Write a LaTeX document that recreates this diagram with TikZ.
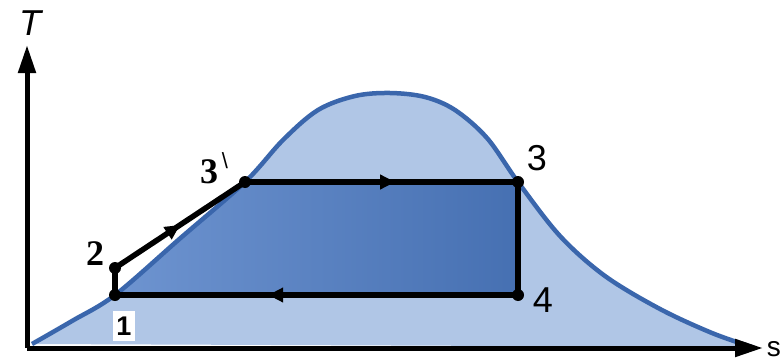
\documentclass[tikz,border=0pt]{standalone}
\usepackage{fontspec}
\setmainfont{Liberation Serif}
\newfontfamily\sansf{Liberation Sans}
\usetikzlibrary{arrows.meta,decorations.markings}
\definecolor{lightfill}{HTML}{B0C6E6}
\definecolor{curveblue}{HTML}{3A66AC}
\definecolor{innerL}{HTML}{6E94D0}
\definecolor{innerR}{HTML}{4670B2}
\begin{document}
\begin{tikzpicture}[x=1pt,y=-1pt,
  cyc/.style={line width=5.5pt,black},
  dot/.style={circle,fill=black,inner sep=0pt,minimum size=12pt},
  midarrow/.style={postaction={decorate},decoration={markings,mark=at position #1 with {\arrow{Triangle[length=15pt,width=14pt]}}}},
  axisline/.style={line width=5pt,-{Triangle[length=28pt,width=17pt]}},
  domeline/.style={line width=4.5pt,curveblue,line join=round},
  lbl/.style={inner sep=0pt,text=black},
]
\useasboundingbox (0,0) rectangle (782,364);
\coordinate (O) at (27,348);
\coordinate (Ttip) at (27,45);
\coordinate (Stip) at (763,348);
\coordinate (p1) at (115,295);
\coordinate (p2) at (115,268);
\coordinate (p3p) at (245,182);
\coordinate (p3) at (518,182);
\coordinate (p4) at (518,295);

% dome
\def\domepath{plot[smooth,tension=0.55] coordinates {(32,344) (72,321) (115,295) (180,238.5) (245,182) (283,140) (318,110) (355,96) (390,93) (425,97) (455,110) (487,138) (518,182) (560,236) (605,276) (660,309) (712,333) (752,347)}}
\fill[lightfill] \domepath -- cycle;
% inner cycle region
\shade[left color=innerL,right color=innerR] (p1) -- (p3p) -- (p3) -- (p4) -- cycle;
\draw[domeline] \domepath;

% cycle
\draw[cyc] (p1) -- (p2);
\draw[cyc,midarrow=0.5] (p2) -- (p3p);
\draw[cyc,midarrow=0.55] (p3p) -- (p3);
\draw[cyc] (p3) -- (p4);
\draw[cyc,midarrow=0.62] (p4) -- (p1);

\node[dot] (d1) at (p1) {};
\node[dot] (d2) at (p2) {};
\node[dot] (d3p) at (p3p) {};
\node[dot] (d3) at (p3) {};
\node[dot] (d4) at (p4) {};

% axes
\draw[axisline] (O) -- (Ttip);
\draw[axisline] (O) -- (Stip);

% labels
\node[lbl] (lT) at (30,23) {\fontsize{36}{36}\selectfont\sansf\itshape T};
\node[lbl,anchor=east] (lS) at (781,349) {\fontsize{28}{28}\selectfont\sansf s};
\node[lbl] (l2) at (95,254) {\fontsize{36}{36}\selectfont\bfseries 2};
\node[lbl] (l3p) at (209,172) {\fontsize{36}{36}\selectfont\bfseries 3};
\node[lbl] (l3pm) at (225,161) {\fontsize{22}{22}\selectfont\sansf\textbackslash};
\node[lbl] (l3) at (537,158) {\fontsize{36}{36}\selectfont\sansf 3};
\node[lbl] (l4) at (543,300) {\fontsize{36}{36}\selectfont\sansf 4};
\node[fill=white,inner xsep=3pt,inner ysep=6pt,text=black] (l1) at (124,326) {\fontsize{27}{27}\selectfont\sansf\bfseries 1};
\end{tikzpicture}
\end{document}
